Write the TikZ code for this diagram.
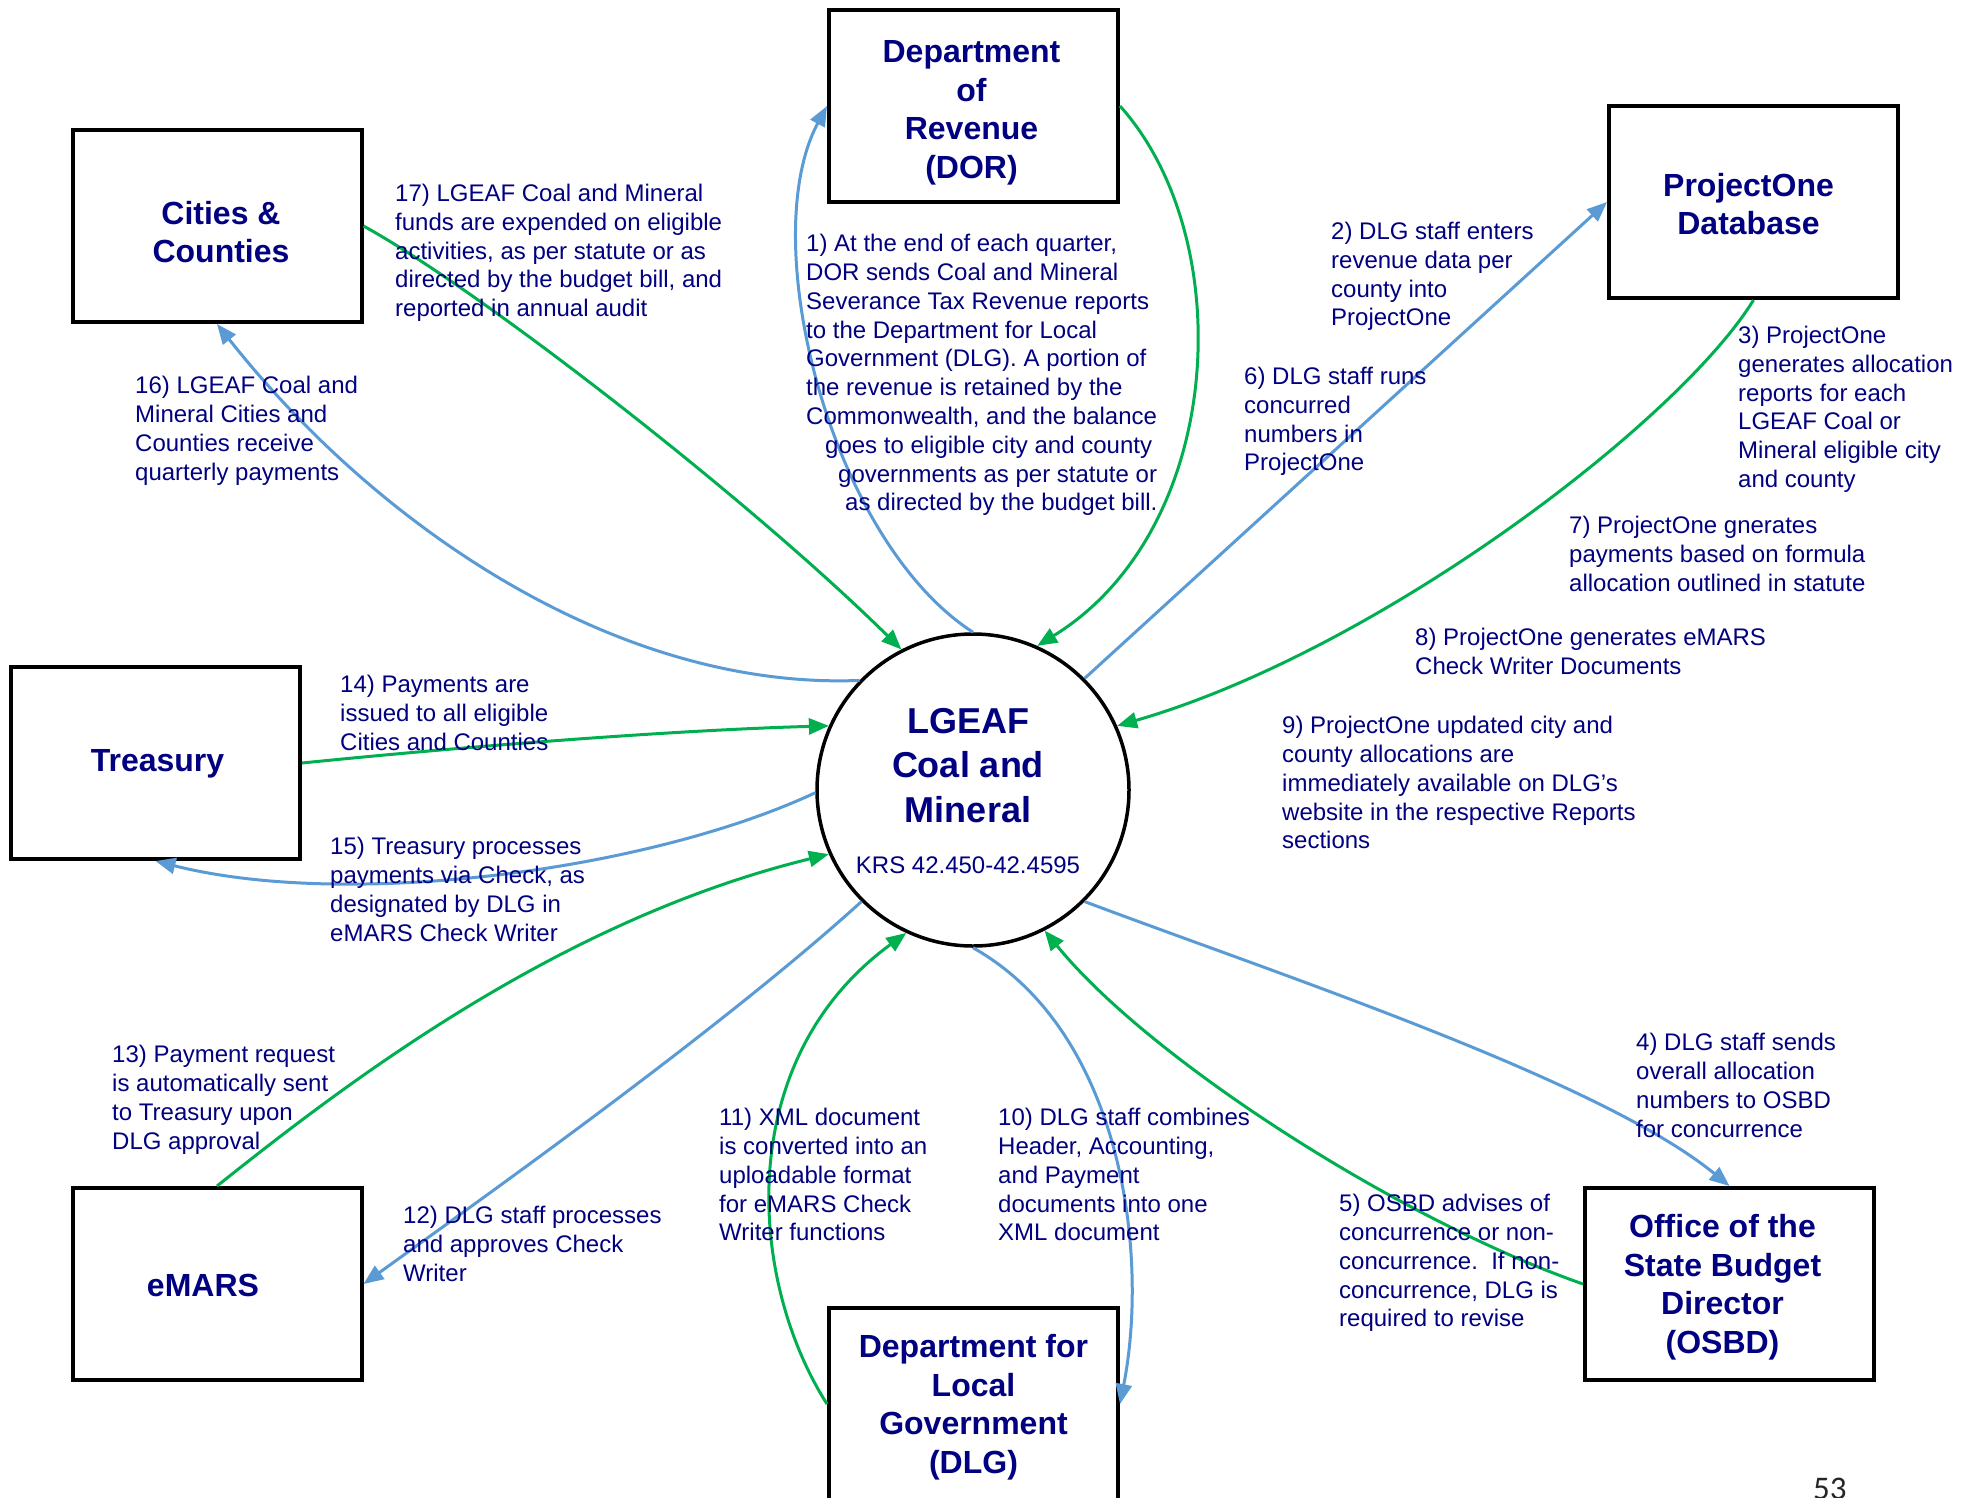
\documentclass[tikz,border=0pt]{standalone}
\usepackage{fontspec}
\setmainfont{Liberation Sans}
\newfontfamily\pagenumfont{Carlito}
\usetikzlibrary{arrows.meta}
\definecolor{navy}{RGB}{0,0,128}
\definecolor{lineblue}{RGB}{91,155,213}
\definecolor{linegreen}{RGB}{0,176,80}
\newcommand\mybxfont{\bfseries\fontsize{32}{38.5}\selectfont}
\newcommand\mylblfont{\fontsize{24}{28.8}\selectfont}
\tikzset{
  box/.style={draw=black, line width=4pt, minimum width=289pt, minimum height=192pt,
    inner sep=0pt},
  boxtxt/.style={inner sep=0pt, align=center, text=navy, font=\mybxfont},
  lbl/.style={anchor=north west, inner sep=0pt, align=left, text=navy, font=\mylblfont},
  bl/.style={draw=lineblue, line width=3pt, -{Triangle[length=20pt,width=16pt]}},
  gr/.style={draw=linegreen, line width=3pt, -{Triangle[length=20pt,width=16pt]}},
}
\begin{document}
\begin{tikzpicture}[x=1pt,y=-1pt]
\useasboundingbox[fill=white] (0,0) rectangle (1973,1497);

% boxes
\node[box] (dor) at (973.5,106) {};
\node[box] (cities) at (217,226) {};
\node[box] (p1) at (1753.5,202) {};
\node[box] (treasury) at (155.5,763) {};
\node[box] (emars) at (217,1284) {};
\node[box] (dlg) at (973.5,1404) {};
\node[box] (osbd) at (1729.5,1284) {};

% box texts
\node[boxtxt] (dortxt) at ([shift={(-2,7)}]dor.center) {Department\\of\\Revenue\\(DOR)};
\node[boxtxt] (citiestxt) at ([shift={(4,6)}]cities.center) {Cities \&\\Counties};
\node[boxtxt] (p1txt) at ([shift={(-5,2)}]p1.center) {ProjectOne\\Database};
\node[boxtxt] (treasurytxt) at ([shift={(2,1)}]treasury.center) {Treasury};
\node[boxtxt] (emarstxt) at ([shift={(-14,1)}]emars.center) {eMARS};
\node[boxtxt] (dlgtxt) at ([shift={(0,3)}]dlg.center) {Department for\\Local\\Government\\(DLG)};
\node[boxtxt] (osbdtxt) at ([shift={(-7,3)}]osbd.center) {Office of the\\State Budget\\Director\\(OSBD)};

% central circle
\node[circle, draw=black, line width=3.5pt, minimum size=312pt, inner sep=0pt] (c) at (973,790) {};
\node[anchor=north, inner sep=0pt, align=center, text=navy,
  font=\bfseries\fontsize{36}{44.5}\selectfont] (ctitle) at (968,708) {LGEAF\\Coal and\\Mineral};
\node[anchor=base, inner sep=0pt, text=navy, font=\fontsize{24}{28}\selectfont] (ckrs) at (968,873) {KRS 42.450-42.4595};

% connectors
\draw[bl] (c.90) .. controls (830,540) and (755,240) .. (dor.west);
\draw[gr] (dor.east) .. controls (1240,240) and (1225,530) .. (c.66);
\draw[bl] (c.45) -- (p1.west);
\draw[gr] (p1.south) .. controls (1680,420) and (1380,650) .. (c.24);
\draw[bl] (c.-45) .. controls (1280,975) and (1600,1080) .. (osbd.north);
\draw[gr] (osbd.west) .. controls (1400,1220) and (1150,1060) .. (c.-63);
\draw[bl] (c.-90) .. controls (1120,1030) and (1150,1250) .. (dlg.east);
\draw[gr] (dlg.west) .. controls (748,1280) and (732,1060) .. (c.-115);
\draw[bl] (c.-135) .. controls (720,1030) and (480,1200) .. (emars.east);
\draw[gr] (emars.north) .. controls (350,1080) and (560,920) .. (c.204);
\draw[bl] (c.181) .. controls (650,870) and (350,910) .. (treasury.south);
\draw[gr] (treasury.east) .. controls (480,745) and (680,730) .. (c.156);
\draw[bl] (c.136) .. controls (620,690) and (380,530) .. (cities.south);
\draw[gr] (cities.east) .. controls (480,290) and (750,500) .. (c.117);

% labels
\node[lbl] (l1) at (806,234) {1) At the end of each quarter,\\DOR sends Coal and Mineral\\Severance Tax Revenue reports\\to the Department for Local\\Government (DLG). A portion of\\the revenue is retained by the\\Commonwealth, and the balance\\\hspace*{19pt}goes to eligible city and county\\\hspace*{32pt}governments as per statute or\\\hspace*{39pt}as directed by the budget bill.};
\node[lbl] (l2) at (1331,222) {2) DLG staff enters\\revenue data per\\county into\\ProjectOne};
\node[lbl] (l3) at (1738,326) {3) ProjectOne\\generates allocation\\reports for each\\LGEAF Coal or\\Mineral eligible city\\and county};
\node[lbl] (l4) at (1636,1033) {4) DLG staff sends\\overall allocation\\numbers to OSBD\\for concurrence};
\node[lbl] (l5) at (1339,1194) {5) OSBD advises of\\concurrence or non-\\concurrence.\ \ If non-\\concurrence, DLG is\\required to revise};
\node[lbl] (l6) at (1244,367) {6) DLG staff runs\\concurred\\numbers in\\ProjectOne};
\node[lbl] (l7) at (1569,516) {7) ProjectOne gnerates\\payments based on formula\\allocation outlined in statute};
\node[lbl] (l8) at (1415,628) {8) ProjectOne generates eMARS\\Check Writer Documents};
\node[lbl] (l9) at (1282,716) {9) ProjectOne updated city and\\county allocations are\\immediately available on DLG's\\website in the respective Reports\\sections};
\node[lbl] (l10) at (998,1108) {10) DLG staff combines\\Header, Accounting,\\and Payment\\documents into one\\XML document};
\node[lbl] (l11) at (719,1108) {11) XML document\\is converted into an\\uploadable format\\for eMARS Check\\Writer functions};
\node[lbl] (l12) at (403,1206) {12) DLG staff processes\\and approves Check\\Writer};
\node[lbl] (l13) at (112,1045) {13) Payment request\\is automatically sent\\to Treasury upon\\DLG approval};
\node[lbl] (l14) at (340,675) {14) Payments are\\issued to all eligible\\Cities and Counties};
\node[lbl] (l15) at (330,837) {15) Treasury processes\\payments via Check, as\\designated by DLG in\\eMARS Check Writer};
\node[lbl] (l16) at (135,376) {16) LGEAF Coal and\\Mineral Cities and\\Counties receive\\quarterly payments};
\node[lbl] (l17) at (395,184) {17) LGEAF Coal and Mineral\\funds are expended on eligible\\activities, as per statute or as\\directed by the budget bill, and\\reported in annual audit};

% page number
\node[anchor=north west, inner sep=0pt, text=black!85, font=\pagenumfont\fontsize{33}{33}\selectfont] (pg) at (1813,1478) {53};
\end{tikzpicture}
\end{document}
